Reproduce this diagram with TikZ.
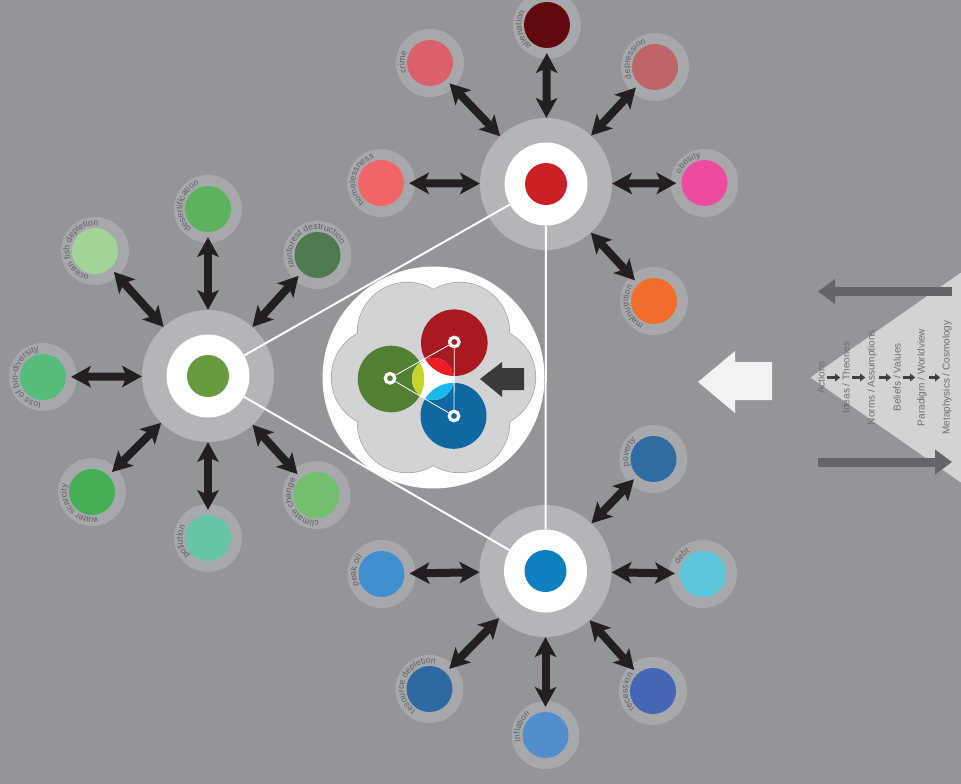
\documentclass[tikz,border=0pt]{standalone}
\usepackage{fontspec}
\setmainfont{Liberation Sans}
\usetikzlibrary{arrows.meta,decorations.text}

\definecolor{backdrop}{HTML}{939598}
\definecolor{hubring}{HTML}{B4B5B8}
\definecolor{satring}{HTML}{A7A8AB}
\definecolor{tiecol}{HTML}{231F20}
\definecolor{labelgray}{HTML}{5F6063}
% hubs
\definecolor{socred}{HTML}{CC2027}
\definecolor{envgreen}{HTML}{699A3D}
\definecolor{ecoblue}{HTML}{0F7FBF}
% social
\definecolor{homelesscol}{HTML}{F26567}
\definecolor{crimecol}{HTML}{DC5F6C}
\definecolor{aliencol}{HTML}{600A0F}
\definecolor{depresscol}{HTML}{BD6567}
\definecolor{obesecol}{HTML}{EC4C9D}
\definecolor{malnutcol}{HTML}{F26C2B}
% environment
\definecolor{fishcol}{HTML}{A3D497}
\definecolor{desertcol}{HTML}{5DB25D}
\definecolor{rainforestcol}{HTML}{4F7A4F}
\definecolor{biodivcol}{HTML}{55BC7B}
\definecolor{watercol}{HTML}{46AE57}
\definecolor{pollutioncol}{HTML}{67C4A7}
\definecolor{climatecol}{HTML}{72C06D}
% economy
\definecolor{povertycol}{HTML}{306BA2}
\definecolor{debtcol}{HTML}{5BC6DC}
\definecolor{recessioncol}{HTML}{4566B3}
\definecolor{inflationcol}{HTML}{528ECC}
\definecolor{resourcecol}{HTML}{2E6AA1}
\definecolor{peakoilcol}{HTML}{418FCF}
% core
\definecolor{petalfill}{HTML}{D1D3D4}
\definecolor{petaledge}{HTML}{9A9C9F}
\definecolor{corered}{HTML}{A91920}
\definecolor{coregreen}{HTML}{537F32}
\definecolor{coreblue}{HTML}{0F69A0}
\definecolor{mixlime}{HTML}{C5D52D}
\definecolor{mixred}{HTML}{ED1C24}
\definecolor{mixcyan}{HTML}{1CB8EC}
\definecolor{pointercol}{HTML}{3A3A3C}
% pyramid
\definecolor{pyramidcol}{HTML}{D1D3D4}
\definecolor{tiertext}{HTML}{6D6E71}
\definecolor{driftcol}{HTML}{646569}
\definecolor{nudgecol}{HTML}{414042}
\definecolor{hintcol}{HTML}{F1F2F2}

\newcommand\satfont{\fontsize{8.7}{9}\selectfont}

\begin{document}
\begin{tikzpicture}[x=1pt, y=1pt,
    hub/.style={circle, fill=hubring, minimum size=132pt, inner sep=0pt,
        path picture={\fill[white] (path picture bounding box.center) circle (41.5pt);
                      \fill[#1] (path picture bounding box.center) circle (21pt);}},
    sat/.style={circle, fill=satring, minimum size=68pt, inner sep=0pt,
        path picture={\fill[#1] (path picture bounding box.center) circle (23pt);}},
    link/.style={white, line width=2pt, shorten <=-24.5pt, shorten >=-24.5pt},
    tie/.style={draw=tiecol, line width=8pt, shorten <=-6pt,
        >={Stealth[length=20pt, width=22pt, inset=5pt, line width=0pt]}, <->},
    satlabel/.style={decorate, decoration={text along path, text align=center,
        text color=labelgray, text={|\satfont|#1}}},
    dot/.style={circle, draw=white, line width=3.2pt, minimum size=9.5pt, inner sep=0pt},
    tier/.style={rotate=90, text=tiertext, font=\fontsize{10}{12}\selectfont, inner sep=1pt},
    nudge/.style={draw=nudgecol, line width=2.8pt, shorten <=1pt, shorten >=1pt,
        -{Triangle[length=5pt, width=8pt, line width=0pt]}},
    drift/.style={draw=driftcol, line width=9pt,
        -{Triangle[length=17pt, width=25pt, line width=0pt]}}]

    \useasboundingbox (0,0) rectangle (961,-784);
    \fill[backdrop] (0,0) rectangle (961,-784);

    % \draw [help lines, step=50] (0,-784) grid (961,0);

    \node[hub=socred]   (soc) at (546,  -184) {};
    \node[hub=envgreen] (env) at (208,  -376) {};
    \node[hub=ecoblue]  (eco) at (545.5,-571) {};

    \node[sat=homelesscol] (homelessness) at (381,  -183) {};
    \node[sat=crimecol]    (crime)        at (430,   -63) {};
    \node[sat=aliencol]    (alienation)   at (547,   -25) {};
    \node[sat=depresscol]  (depression)   at (655,   -67) {};
    \node[sat=obesecol]    (obesity)      at (704.5,-183) {};
    \node[sat=malnutcol]   (malnutrition) at (654,  -301) {};

    \node[sat=fishcol]       (fish)       at ( 95,  -251) {};
    \node[sat=desertcol]     (desert)     at (208,  -209) {};
    \node[sat=rainforestcol] (rainforest) at (317.5,-255) {};
    \node[sat=biodivcol]     (biodiv)     at ( 43,  -377) {};
    \node[sat=watercol]      (water)      at ( 92,  -492) {};
    \node[sat=pollutioncol]  (pollution)  at (208,  -538) {};
    \node[sat=climatecol]    (climate)    at (316.5,-495) {};

    \node[sat=povertycol]   (poverty)   at (653.5,-459) {};
    \node[sat=debtcol]      (debt)      at (703,  -574) {};
    \node[sat=recessioncol] (recession) at (653,  -691) {};
    \node[sat=inflationcol] (inflation) at (545.5,-735) {};
    \node[sat=resourcecol]  (resource)  at (429.5,-689) {};
    \node[sat=peakoilcol]   (peakoil)   at (381.5,-574) {};

    \draw[link] (soc) -- (env);
    \draw[link] (env) -- (eco);
    \draw[link] (soc) -- (eco);

    \draw[tie] (homelessness) -- (soc);
    \draw[tie] (crime)        -- (soc);
    \draw[tie] (alienation)   -- (soc);
    \draw[tie] (depression)   -- (soc);
    \draw[tie] (obesity)      -- (soc);
    \draw[tie] (malnutrition) -- (soc);

    \draw[tie] (fish)       -- (env);
    \draw[tie] (desert)     -- (env);
    \draw[tie] (rainforest) -- (env);
    \draw[tie] (biodiv)     -- (env);
    \draw[tie] (water)      -- (env);
    \draw[tie] (pollution)  -- (env);
    \draw[tie] (climate)    -- (env);

    \draw[tie] (poverty)   -- (eco);
    \draw[tie] (debt)      -- (eco);
    \draw[tie] (recession) -- (eco);
    \draw[tie] (inflation) -- (eco);
    \draw[tie] (resource)  -- (eco);
    \draw[tie] (peakoil)   -- (eco);

    % labels run clockwise round the rings
    \path[satlabel={homelessness}] ([shift={(318:25.5)}]homelessness.center) arc[start angle=318, end angle=18, radius=25.5];
    \path[satlabel={crime}]        ([shift={(328:25.5)}]crime.center)        arc[start angle=328, end angle=28, radius=25.5];
    \path[satlabel={alienation}]   ([shift={(341:25.5)}]alienation.center)   arc[start angle=341, end angle=41, radius=25.5];
    \path[satlabel={depression}]   ([shift={(308:25.5)}]depression.center)   arc[start angle=308, end angle=8, radius=25.5];
    \path[satlabel={obesity}]      ([shift={(279:25.5)}]obesity.center)      arc[start angle=279, end angle=-21, radius=25.5];
    \path[satlabel={malnutrition}] ([shift={(346:25.5)}]malnutrition.center) arc[start angle=346, end angle=46, radius=25.5];

    \path[satlabel={ocean fish depletion}]   ([shift={(320:25.5)}]fish.center)       arc[start angle=320, end angle=20, radius=25.5];
    \path[satlabel={desertification}]        ([shift={(320:25.5)}]desert.center)     arc[start angle=320, end angle=20, radius=25.5];
    \path[satlabel={rainforest destruction}] ([shift={(266:25.5)}]rainforest.center) arc[start angle=266, end angle=-34, radius=25.5];
    \path[satlabel={loss of bio-diversity}]  ([shift={(332:25.5)}]biodiv.center)     arc[start angle=332, end angle=32, radius=25.5];
    \path[satlabel={water scarcity}]         ([shift={(373:25.5)}]water.center)      arc[start angle=373, end angle=73, radius=25.5];
    \path[satlabel={pollution}]              ([shift={(338:25.5)}]pollution.center)  arc[start angle=338, end angle=38, radius=25.5];
    \path[satlabel={climate change}]         ([shift={(359:25.5)}]climate.center)    arc[start angle=359, end angle=59, radius=25.5];

    \path[satlabel={poverty}]            ([shift={(315:25.5)}]poverty.center)   arc[start angle=315, end angle=15, radius=25.5];
    \path[satlabel={debt}]               ([shift={(290:25.5)}]debt.center)      arc[start angle=290, end angle=-10, radius=25.5];
    \path[satlabel={recession}]          ([shift={(332:25.5)}]recession.center) arc[start angle=332, end angle=32, radius=25.5];
    \path[satlabel={inflation}]          ([shift={(310:25.5)}]inflation.center) arc[start angle=310, end angle=10, radius=25.5];
    \path[satlabel={resource depletion}] ([shift={(307:25.5)}]resource.center)  arc[start angle=307, end angle=7, radius=25.5];
    \path[satlabel={peak oil}]           ([shift={(323:25.5)}]peakoil.center)   arc[start angle=323, end angle=23, radius=25.5];

    % core
    \node[circle, fill=white, minimum size=222pt, inner sep=0pt] (core) at (433.5,-377.5) {};
    \draw[petaledge, line width=1.2pt]
        ([shift={(0:52)}]core.center) circle (50)   ([shift={(60:52)}]core.center) circle (50)
        ([shift={(120:52)}]core.center) circle (50) ([shift={(180:52)}]core.center) circle (50)
        ([shift={(240:52)}]core.center) circle (50) ([shift={(300:52)}]core.center) circle (50);
    \fill[petalfill]
        ([shift={(0:52)}]core.center) circle (50)   ([shift={(60:52)}]core.center) circle (50)
        ([shift={(120:52)}]core.center) circle (50) ([shift={(180:52)}]core.center) circle (50)
        ([shift={(240:52)}]core.center) circle (50) ([shift={(300:52)}]core.center) circle (50)
        (core.center) circle (60);

    \fill[corered]   (454.3,-342.7) circle (33.3);
    \fill[coregreen] (391,  -379)   circle (33.3);
    \fill[coreblue]  (453.5,-415.8) circle (33);
    \begin{scope}
        \clip (433,-379) circle (21);
        \fill[white]   (433,-379) circle (21);
        \fill[mixlime] (391,  -379)   circle (33.3);
        \fill[mixred]  (454.3,-342.7) circle (33.3);
        \fill[mixcyan] (453.5,-415.8) circle (33);
    \end{scope}

    \node[dot] (rdot) at (454.3,-342) {};
    \node[dot] (gdot) at (390,  -378.3) {};
    \node[dot] (bdot) at (454,  -416) {};
    \draw[white, line width=0.8pt] (rdot) -- (gdot);
    \draw[white, line width=0.8pt] (gdot) -- (bdot);
    \draw[white, line width=0.8pt] (rdot) -- (bdot);

    \fill[pointercol] (480,-379) -- (502,-362) -- (502,-368) -- (524,-368)
        -- (524,-390) -- (502,-390) -- (502,-397) -- cycle;

    % pyramid
    \fill[hintcol] (698,-382) -- (735,-351) -- (735,-362) -- (772,-362)
        -- (772,-400) -- (735,-400) -- (735,-413) -- cycle;
    \fill[pyramidcol] (810.5,-377.5) -- (961,-272.5) -- (961,-482.5) -- cycle;

    \coordinate (backstart) at (952,-291.5);
    \coordinate (backend)   at (818,-291.5);
    \coordinate (onstart)   at (818,-462);
    \coordinate (onend)     at (952,-462);
    \draw[drift] (backstart) -- (backend);
    \draw[drift] (onstart) -- (onend);

    \node[tier] (actions)     at (821,-377.5) {Actions};
    \node[tier] (ideas)       at (846,-377.5) {Ideas / Theories};
    \node[tier] (norms)       at (872,-377.5) {Norms / Assumptions};
    \node[tier] (beliefs)     at (897,-377.5) {Beliefs  / Values};
    \node[tier] (paradigm)    at (922,-377.5) {Paradigm / Worldview};
    \node[tier] (metaphysics) at (947,-377.5) {Metaphysics / Cosmology};

    \draw[nudge] (actions)  -- (ideas);
    \draw[nudge] (ideas)    -- (norms);
    \draw[nudge] (norms)    -- (beliefs);
    \draw[nudge] (beliefs)  -- (paradigm);
    \draw[nudge] (paradigm) -- (metaphysics);

\end{tikzpicture}
\end{document}
